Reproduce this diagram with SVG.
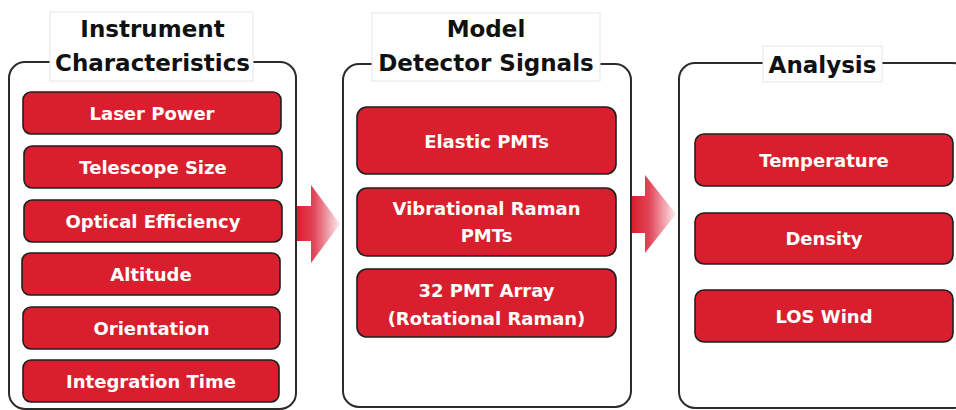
<svg xmlns="http://www.w3.org/2000/svg" width="956" height="410" viewBox="0 0 956 410">
<defs>
<style>
.panel{fill:#ffffff;stroke:#2b2b2b;stroke-width:2}
.tbox{fill:#ffffff;stroke:#e6e6e6;stroke-width:1}
.title{font-family:"DejaVu Sans",sans-serif;font-weight:bold;font-size:23px;fill:#111111;text-anchor:middle}
.btn{fill:#d91f2e;stroke:#1e1e1e;stroke-width:1.6}
.lbl{font-family:"DejaVu Sans",sans-serif;font-weight:bold;font-size:18px;fill:#ffffff;text-anchor:middle}
</style>
<linearGradient id="g1" gradientUnits="userSpaceOnUse" x1="297" y1="0" x2="340" y2="0">
<stop offset="0" stop-color="#d91e2e"/>
<stop offset="0.4" stop-color="#e2475a"/>
<stop offset="1" stop-color="#fcecee"/>
</linearGradient>
<linearGradient id="g2" gradientUnits="userSpaceOnUse" x1="632" y1="0" x2="676" y2="0">
<stop offset="0" stop-color="#d91e2e"/>
<stop offset="0.4" stop-color="#e2475a"/>
<stop offset="1" stop-color="#fcecee"/>
</linearGradient>
</defs>
<rect width="956" height="410" fill="#ffffff"/>

<g id="panel-instrument">
<rect class="panel" x="9" y="62" width="287" height="347" rx="16"/>
<rect class="tbox" x="50" y="12" width="203" height="69"/>
<text class="title" x="152.5" y="37">Instrument</text>
<text class="title" x="152.5" y="71">Characteristics</text>
</g>
<g id="panel-model">
<rect class="panel" x="343" y="64" width="288" height="343" rx="16"/>
<rect class="tbox" x="372" y="13" width="228" height="68"/>
<text class="title" x="486" y="37">Model</text>
<text class="title" x="486" y="71">Detector Signals</text>
</g>
<g id="panel-analysis">
<rect class="panel" x="679" y="63" width="290" height="345" rx="16"/>
<rect class="tbox" x="763" y="46" width="119" height="36"/>
<text class="title" x="822.5" y="73">Analysis</text>
</g>

<g id="laser-power"><rect class="btn" x="23" y="92" width="258" height="42" rx="8"/><text class="lbl" x="152" y="120">Laser Power</text></g>
<g id="telescope-size"><rect class="btn" x="24" y="146" width="258" height="42" rx="8"/><text class="lbl" x="153" y="174">Telescope Size</text></g>
<g id="optical-efficiency"><rect class="btn" x="24" y="200" width="258" height="42" rx="8"/><text class="lbl" x="153" y="228">Optical Efficiency</text></g>
<g id="altitude"><rect class="btn" x="22" y="253" width="258" height="42" rx="8"/><text class="lbl" x="151" y="281">Altitude</text></g>
<g id="orientation"><rect class="btn" x="23" y="307" width="257" height="42" rx="8"/><text class="lbl" x="151.5" y="335">Orientation</text></g>
<g id="integration-time"><rect class="btn" x="23" y="360" width="256" height="42" rx="8"/><text class="lbl" x="151" y="388">Integration Time</text></g>

<g id="elastic-pmts"><rect class="btn" x="357" y="107" width="259" height="67" rx="10"/><text class="lbl" x="486.5" y="148">Elastic PMTs</text></g>
<g id="vibrational-raman"><rect class="btn" x="357" y="188" width="259" height="68" rx="10"/><text class="lbl" x="486.5" y="215">Vibrational Raman</text><text class="lbl" x="486.5" y="242">PMTs</text></g>
<g id="pmt-array"><rect class="btn" x="357" y="269" width="259" height="68" rx="10"/><text class="lbl" x="486.5" y="297">32 PMT Array</text><text class="lbl" x="486.5" y="325">(Rotational Raman)</text></g>

<g id="temperature"><rect class="btn" x="695" y="134" width="258" height="52" rx="9"/><text class="lbl" x="824" y="167">Temperature</text></g>
<g id="density"><rect class="btn" x="695" y="213" width="258" height="51" rx="9"/><text class="lbl" x="824" y="245">Density</text></g>
<g id="los-wind"><rect class="btn" x="695" y="290" width="258" height="52" rx="9"/><text class="lbl" x="824" y="323">LOS Wind</text></g>

<g id="connectors">
<polygon points="297,206 311,206 311,185 340,224 311,263 311,241 297,241" fill="url(#g1)"/>
<polygon points="632,196 645,196 645,175 676,214 645,253 645,233 632,233" fill="url(#g2)"/>
</g>
</svg>
